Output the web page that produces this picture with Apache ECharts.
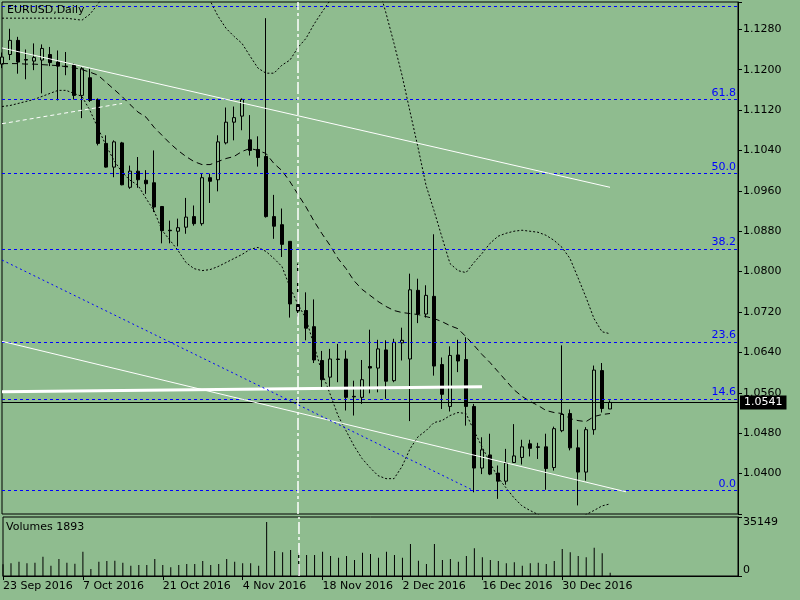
<!DOCTYPE html>
<html><head><meta charset="utf-8">
<script src="https://cdn.jsdelivr.net/npm/echarts/dist/echarts.min.js"></script>
<style>html,body{margin:0;padding:0;background:#8fbc8f}#c{width:800px;height:600px}</style>
</head><body><div id="c"></div>
<script>
// ---- categories (trading days) ----
const dates = ['23 Sep 2016','26 Sep 2016','27 Sep 2016','28 Sep 2016','29 Sep 2016','30 Sep 2016',
'3 Oct 2016','4 Oct 2016','5 Oct 2016','6 Oct 2016','7 Oct 2016','10 Oct 2016','11 Oct 2016','12 Oct 2016','13 Oct 2016','14 Oct 2016',
'17 Oct 2016','18 Oct 2016','19 Oct 2016','20 Oct 2016','21 Oct 2016','24 Oct 2016','25 Oct 2016','26 Oct 2016','27 Oct 2016','28 Oct 2016',
'31 Oct 2016','1 Nov 2016','2 Nov 2016','3 Nov 2016','4 Nov 2016','7 Nov 2016','8 Nov 2016','9 Nov 2016','10 Nov 2016','11 Nov 2016',
'14 Nov 2016','15 Nov 2016','16 Nov 2016','17 Nov 2016','18 Nov 2016','21 Nov 2016','22 Nov 2016','23 Nov 2016','24 Nov 2016','25 Nov 2016',
'28 Nov 2016','29 Nov 2016','30 Nov 2016','1 Dec 2016','2 Dec 2016','5 Dec 2016','6 Dec 2016','7 Dec 2016','8 Dec 2016','9 Dec 2016',
'12 Dec 2016','13 Dec 2016','14 Dec 2016','15 Dec 2016','16 Dec 2016','19 Dec 2016','20 Dec 2016','21 Dec 2016','22 Dec 2016','23 Dec 2016',
'26 Dec 2016','27 Dec 2016','28 Dec 2016','29 Dec 2016','30 Dec 2016','2 Jan 2017','3 Jan 2017','4 Jan 2017','5 Jan 2017','6 Jan 2017','9 Jan 2017'];
const emptySlots = ['+1','+2','+3','+4','+5','+6','+7','+8','+9','+10','+11','+12','+13','+14','+15','+16'];
const labelIndices = [0,10,20,30,40,50,60,70];

// ---- OHLC ----
const opens = [1.1211,1.1230,1.1258,1.1220,1.1217,1.1219,1.1230,1.1215,1.1207,1.1209,1.1149,1.1184,1.1141,1.1054,1.1007,1.1055,
1.0967,1.0999,1.0981,1.0976,1.0929,1.0882,1.0880,1.0888,1.0909,1.0895,1.0986,1.0982,1.1055,1.1096,1.1108,1.1061,1.1042,1.1028,1.0909,1.0893,
1.0860,1.0735,1.0723,1.0691,1.0624,1.0591,1.0627,1.0627,1.0553,1.0551,1.0612,1.0609,1.0645,1.0584,1.0659,1.0627,1.0763,1.0716,1.0751,1.0616,
1.0533,1.0635,1.0626,1.0533,1.0411,1.0437,1.0401,1.0385,1.0422,1.0432,1.0459,1.0453,1.0453,1.0412,1.0485,1.0519,1.0451,1.0403,1.0487,1.0604,1.0528];
const highs = [1.1234,1.1281,1.1265,1.1240,1.1252,1.1250,1.1245,1.1238,1.1235,1.1212,1.1205,1.1202,1.1143,1.1070,1.1060,1.1057,
1.1010,1.1027,1.1001,1.1040,1.0930,1.0901,1.0905,1.0946,1.0931,1.0994,1.0994,1.1070,1.1125,1.1127,1.1143,1.1110,1.1068,1.1302,1.0952,1.0925,
1.0860,1.0816,1.0759,1.0745,1.0643,1.0647,1.0657,1.0644,1.0584,1.0625,1.0685,1.0665,1.0664,1.0667,1.0689,1.0796,1.0786,1.0773,1.0874,1.0630,
1.0652,1.0665,1.0670,1.0538,1.0472,1.0479,1.0416,1.0449,1.0498,1.0467,1.0467,1.0461,1.0479,1.0493,1.0654,1.0527,1.0487,1.0492,1.0614,1.0619,1.0545];
const lows = [1.1203,1.1219,1.1192,1.1181,1.1199,1.1153,1.1207,1.1139,1.1189,1.1141,1.1104,1.1136,1.1050,1.1006,1.0987,1.0971,
1.0964,1.0966,1.0954,1.0918,1.0856,1.0856,1.0850,1.0875,1.0891,1.0891,1.0936,1.0959,1.1052,1.1060,1.1080,1.1030,1.1008,1.0907,1.0865,1.0829,
1.0709,1.0711,1.0664,1.0619,1.0570,1.0572,1.0581,1.0525,1.0515,1.0538,1.0559,1.0561,1.0548,1.0581,1.0624,1.0504,1.0698,1.0709,1.0594,1.0528,
1.0523,1.0601,1.0495,1.0363,1.0399,1.0397,1.0350,1.0378,1.0421,1.0418,1.0434,1.0429,1.0368,1.0406,1.0482,1.0446,1.0337,1.0386,1.0477,1.0521,1.0528];
const closes = [1.1225,1.1258,1.1215,1.1219,1.1224,1.1242,1.1214,1.1207,1.1206,1.1149,1.1202,1.1139,1.1054,1.1007,1.1057,1.0972,
1.0999,1.0982,1.0974,1.0928,1.0881,1.0881,1.0887,1.0908,1.0895,1.0986,1.0979,1.1057,1.1096,1.1105,1.1141,1.1040,1.1026,1.0909,1.0890,1.0854,
1.0736,1.0722,1.0688,1.0625,1.0586,1.0627,1.0626,1.0551,1.0552,1.0586,1.0609,1.0647,1.0583,1.0660,1.0664,1.0764,1.0716,1.0753,1.0613,1.0557,
1.0634,1.0623,1.0533,1.0411,1.0447,1.0399,1.0385,1.0421,1.0435,1.0453,1.0450,1.0452,1.0410,1.0489,1.0517,1.0451,1.0403,1.0487,1.0605,1.0529,1.0541];

// ---- volumes ----
const volumes = [7000,7570,8520,7570,7930,11500,6140,10130,7930,7330,14480,4170,8520,8940,9120,7930,
6140,6560,6560,10130,6560,5190,6560,7150,7150,8940,6560,7150,10130,8520,7570,7570,6140,32180,14900,14120,
15500,13890,12520,12520,14480,11920,10910,11920,9540,13890,13110,10910,14480,12500,10900,19070,9120,7150,19070,9540,
10130,8520,11920,16510,11150,9540,8940,7570,8170,6140,7570,7930,7150,8940,16090,14120,11920,11150,16870,13530,1893];
const volumeMax = 35149;
const lastVolume = 1893;
const lastPrice = 1.0541;

// ---- Bollinger-type bands ----
const upperBand = [1.1302,1.1302,1.1302,1.1302,1.1302,1.1302,1.1302,1.1302,1.1302,1.1300,1.1298,1.1310,1.1330,1.1355,1.1370,1.1390,
1.1400,1.1410,1.1410,1.1410,1.1410,1.1400,1.1390,1.1380,1.1365,1.1350,1.1337,1.1306,1.1282,1.1266,1.1252,1.1227,1.1203,1.1193,1.1193,1.1209,
1.1219,1.1244,1.1262,1.1290,1.1314,1.1337,1.1360,1.1380,1.1390,1.1390,1.1370,1.1367,1.1312,1.1252,1.1189,1.1117,1.1046,1.0971,1.0921,1.0868,
1.0816,1.0802,1.0798,1.0818,1.0836,1.0856,1.0870,1.0876,1.0880,1.0882,1.0880,1.0878,1.0872,1.0862,1.0848,1.0826,1.0788,1.0749,1.0707,1.0681,1.0677];
const middleBand = [1.1212,1.1212,1.1212,1.1211,1.1211,1.1210,1.1209,1.1208,1.1206,1.1204,1.1200,1.1195,1.1189,1.1175,1.1161,1.1147,
1.1131,1.1116,1.1106,1.1086,1.1070,1.1054,1.1040,1.1028,1.1018,1.1012,1.1012,1.1018,1.1024,1.1028,1.1038,1.1044,1.1040,1.1034,1.1014,1.1000,
1.0978,1.0953,1.0928,1.0900,1.0875,1.0852,1.0826,1.0806,1.0782,1.0765,1.0753,1.0741,1.0731,1.0723,1.0719,1.0717,1.0715,1.0711,1.0707,1.0701,
1.0693,1.0687,1.0671,1.0654,1.0636,1.0620,1.0602,1.0584,1.0566,1.0553,1.0543,1.0535,1.0525,1.0521,1.0519,1.0509,1.0505,1.0503,1.0513,1.0517,1.0519];
const lowerBand = [1.1127,1.1129,1.1133,1.1137,1.1141,1.1147,1.1153,1.1159,1.1159,1.1153,1.1147,1.1119,1.1084,1.1050,1.1020,1.0997,
1.0981,1.0971,1.0945,1.0921,1.0882,1.0862,1.0842,1.0818,1.0806,1.0802,1.0804,1.0810,1.0818,1.0826,1.0834,1.0844,1.0848,1.0840,1.0826,1.0810,
1.0769,1.0735,1.0707,1.0654,1.0600,1.0558,1.0515,1.0485,1.0455,1.0430,1.0412,1.0396,1.0390,1.0390,1.0414,1.0449,1.0473,1.0485,1.0501,1.0505,
1.0515,1.0521,1.0519,1.0485,1.0453,1.0422,1.0392,1.0372,1.0352,1.0336,1.0327,1.0319,1.0305,1.0295,1.0290,1.0295,1.0305,1.0319,1.0327,1.0336,1.0340];

// ---- Fibonacci levels ----
const fibLabels = ['0.0','14.6','23.6','38.2','50.0','61.8',''];
const fibPrices = [1.0367,1.0548,1.0661,1.0845,1.0994,1.1141,1.1326];

// ---- drawn objects (index, price) ----
const upperTrend = [[0,1.1243],[76,1.0967]];
const lowerTrend = [[0,1.0662],[78,1.0364]];
const shortDashed = [[0,1.1093],[15,1.1133]];
const flatLine = [[0,1.0562],[60,1.0572]];
const blueTrend = [[0,1.0823],[59,1.0366]];
const vLineIndex = 37;

// ---- build ----
const bg = '#8fbc8f';
const FONT = 'DejaVu Sans';
const cats = dates.concat(emptySlots);
const ohlc = dates.map((d,i)=>[opens[i],closes[i],lows[i],highs[i]]);
const isLabel = (i)=>labelIndices.indexOf(i)>=0;

const fibMarks = fibPrices.map((p,i)=>({
  yAxis:p,
  lineStyle:{color:'#0000ff',width:1,type:[3,3]},
  label:{show:fibLabels[i]!=='',formatter:fibLabels[i],position:'insideEndTop',color:'#0000ff',fontFamily:FONT,fontSize:11,distance:[2,1]}
}));

const chart = echarts.init(document.getElementById('c'),null,{renderer:'canvas'});
chart.setOption({
  animation:false,
  backgroundColor:bg,
  title:[
    {text:'EURUSD,Daily',left:7,top:5,padding:0,textStyle:{color:'#000',fontWeight:'normal',fontSize:11,fontFamily:FONT}},
    {text:'Volumes '+lastVolume,left:6,top:522,padding:0,textStyle:{color:'#000',fontWeight:'normal',fontSize:11,fontFamily:FONT}}
  ],
  grid:[
    {left:2,top:2,width:736,height:512,show:true,borderColor:'#000',borderWidth:1,backgroundColor:'transparent'},
    {left:2,top:517,width:736,height:59,show:true,borderColor:'#000',borderWidth:1,backgroundColor:'transparent'}
  ],
  xAxis:[
    {type:'category',gridIndex:0,data:cats,boundaryGap:false,axisLine:{show:false},axisTick:{show:false},axisLabel:{show:false},splitLine:{show:false}},
    {type:'category',gridIndex:1,data:cats,boundaryGap:false,
     axisLine:{show:true,lineStyle:{color:'#000'}},
     axisTick:{show:true,interval:(i)=>isLabel(i),length:4,lineStyle:{color:'#000'}},
     axisLabel:{show:true,interval:(i)=>isLabel(i),align:'left',margin:5,color:'#000',fontFamily:FONT,fontSize:11},
     splitLine:{show:false}}
  ],
  yAxis:[
    {type:'value',gridIndex:0,position:'right',min:1.032,max:1.1334,interval:0.008,scale:true,
     axisLine:{show:true,lineStyle:{color:'#000'}},
     axisTick:{show:true,length:4,lineStyle:{color:'#000'}},
     axisLabel:{show:true,margin:5,color:'#000',fontFamily:FONT,fontSize:11,
       formatter:(v)=>{const k=v/0.008;return (Math.abs(k-Math.round(k))<1e-6 && v>1.035)?v.toFixed(4):'';}},
     splitLine:{show:false}},
    {type:'value',gridIndex:1,position:'right',min:0,max:volumeMax,interval:volumeMax,
     axisLine:{show:true,lineStyle:{color:'#000'}},
     axisTick:{show:true,length:4,lineStyle:{color:'#000'}},
     axisLabel:{show:true,margin:5,color:'#000',fontFamily:FONT,fontSize:11,formatter:(v)=>String(Math.round(v)),
       verticalAlignMaxLabel:'top',verticalAlignMinLabel:'bottom'},
     splitLine:{show:false}}
  ],
  series:[
    {type:'candlestick',xAxisIndex:0,yAxisIndex:0,data:ohlc,barWidth:4,z:3,
     itemStyle:{color:bg,color0:'#000',borderColor:'#000',borderColor0:'#000',borderWidth:1},
     markLine:{silent:true,symbol:['none','none'],animation:false,precision:4,
       data:fibMarks.concat([
         {yAxis:lastPrice,lineStyle:{color:'#000',width:1,type:'solid'},
          label:{show:true,position:'end',formatter:lastPrice.toFixed(4),color:'#fff',backgroundColor:'#000',padding:[2,4,1,4],fontFamily:FONT,fontSize:11,distance:2}},
         {xAxis:dates[vLineIndex],lineStyle:{color:'#fff',width:1.5,type:[12,3,3,3]},label:{show:false}}
       ])}},
    {type:'line',xAxisIndex:0,yAxisIndex:0,data:upperBand,showSymbol:false,z:4,lineStyle:{color:'#000',width:1,type:[2,2]}},
    {type:'line',xAxisIndex:0,yAxisIndex:0,data:lowerBand,showSymbol:false,z:4,lineStyle:{color:'#000',width:1,type:[2,2]}},
    {type:'line',xAxisIndex:0,yAxisIndex:0,data:middleBand,showSymbol:false,z:4,lineStyle:{color:'#000',width:1,type:[6,4]}},
    {type:'line',xAxisIndex:0,yAxisIndex:0,data:upperTrend,showSymbol:false,z:5,lineStyle:{color:'#fff',width:1}},
    {type:'line',xAxisIndex:0,yAxisIndex:0,data:lowerTrend,showSymbol:false,z:5,lineStyle:{color:'#fff',width:1}},
    {type:'line',xAxisIndex:0,yAxisIndex:0,data:shortDashed,showSymbol:false,z:5,lineStyle:{color:'#fff',width:1,type:[4,3]}},
    {type:'line',xAxisIndex:0,yAxisIndex:0,data:flatLine,showSymbol:false,z:5,lineStyle:{color:'#fff',width:3}},
    {type:'line',xAxisIndex:0,yAxisIndex:0,data:blueTrend,showSymbol:false,z:5,lineStyle:{color:'#0000ff',width:1,type:[2,3]}},
    {type:'bar',xAxisIndex:1,yAxisIndex:1,data:volumes,barWidth:1,itemStyle:{color:'#000'},
     markLine:{silent:true,symbol:['none','none'],animation:false,
       data:[{xAxis:dates[vLineIndex],lineStyle:{color:'#fff',width:1.5,type:[12,3,3,3]},label:{show:false}}]}}
  ]
});
</script>
</body></html>
